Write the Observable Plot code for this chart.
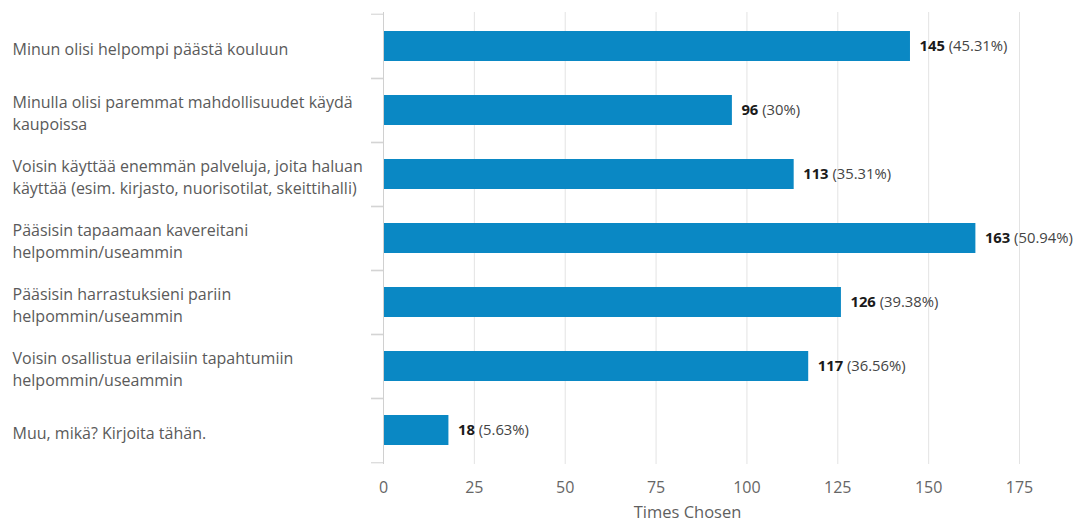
<!DOCTYPE html>
<html><head><meta charset="utf-8">
<script src="https://cdn.jsdelivr.net/npm/d3@7"></script>
<script src="https://cdn.jsdelivr.net/npm/@observablehq/plot@0.6"></script>
<style>body{margin:0;background:#fff}</style>
</head><body><div id="chart"></div>
<script>
const categories = [
  "Minun olisi helpompi päästä kouluun",
  "Minulla olisi paremmat mahdollisuudet käydä\nkaupoissa",
  "Voisin käyttää enemmän palveluja, joita haluan\nkäyttää (esim. kirjasto, nuorisotilat, skeittihalli)",
  "Pääsisin tapaamaan kavereitani\nhelpommin/useammin",
  "Pääsisin harrastuksieni pariin\nhelpommin/useammin",
  "Voisin osallistua erilaisiin tapahtumiin\nhelpommin/useammin",
  "Muu, mikä? Kirjoita tähän."
];
const counts = [145, 96, 113, 163, 126, 117, 18];
const percents = ["45.31", "30", "35.31", "50.94", "39.38", "36.56", "5.63"];
const xTicks = [0, 25, 50, 75, 100, 125, 150, 175];
const xLabel = "Times Chosen";

const data = categories.map((c, i) => ({category: c, count: counts[i], pct: percents[i]}));
const marginTop = 12, marginBottom = 61, H = 525;
const band = (H - marginTop - marginBottom) / categories.length;

const chart = Plot.plot({
  width: 1081, height: H,
  marginLeft: 383, marginRight: 62, marginTop, marginBottom,
  style: {fontFamily: "'Open Sans', sans-serif", fontSize: "16px", background: "#fff", color: "#666"},
  x: {domain: [0, 175]},
  y: {domain: categories, padding: 0},
  marks: [
    Plot.gridX(xTicks.slice(1), {stroke: "#e3e3e3", strokeOpacity: 1}),
    Plot.barX(data, {x: "count", y: "category", fill: "#0a88c4", insetTop: 17, insetBottom: 17}),
    Plot.ruleX([0], {stroke: "#d0d0d0"}),
    Plot.axisY({tickSize: 12, text: null, dy: -band / 2, stroke: "#d0d0d0", strokeOpacity: 1, label: null}),
    Plot.axisY({tickSize: 12, text: null, dy: band / 2, stroke: "#d0d0d0", strokeOpacity: 1, label: null}),
    Plot.text(data, {y: "category", text: "category", frameAnchor: "left", textAnchor: "start", dx: -371, dy: 1.5, fill: "#5a5a5a", lineHeight: 1.36, fontSize: 16}),
    Plot.text(data, {x: "count", y: "category", text: d => `${d.count}|(${d.pct}%)`, textAnchor: "start", dx: 9, fontSize: 14.8}),
    Plot.axisX({ticks: xTicks, tickSize: 0, tickPadding: 17.5, fill: "#666", fontSize: 16, label: null}),
    Plot.text([xLabel], {frameAnchor: "bottom", lineAnchor: "middle", dy: 48, dx: -14, fontSize: 16.5, fill: "#5f5f5f"})
  ]
});

d3.select(chart).selectAll("text").each(function() {
  const t = this.textContent;
  if (t.includes("|")) {
    const [n, p] = t.split("|");
    const sel = d3.select(this);
    sel.text(null);
    sel.append("tspan").attr("font-weight", "bold").attr("fill", "#1a1a1a").text(n);
    sel.append("tspan").attr("fill", "#444").text(" " + p);
  }
});
document.getElementById("chart").appendChild(chart);
</script>
</body></html>
